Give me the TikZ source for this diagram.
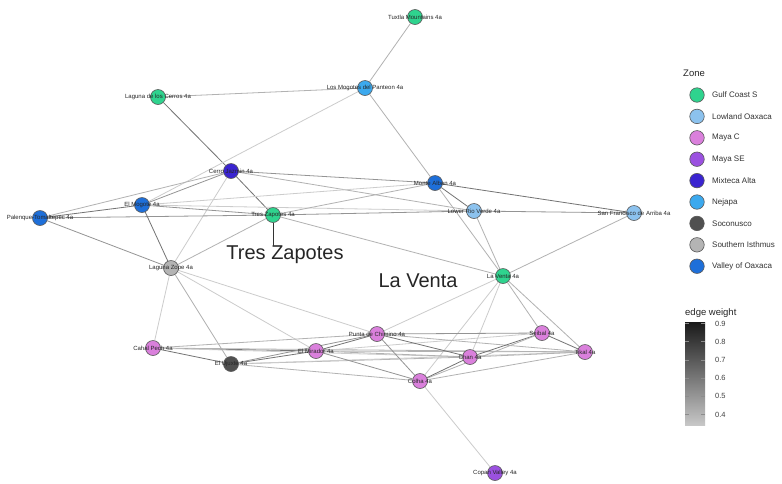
\documentclass[tikz,border=0pt]{standalone}
\usepackage{fontspec}
\setmainfont{Liberation Sans}
\usetikzlibrary{backgrounds}
\definecolor{cGulf}{HTML}{2FD38E}
\definecolor{cLowland}{HTML}{8CC2EE}
\definecolor{cMayaC}{HTML}{DA80DC}
\definecolor{cMayaSE}{HTML}{9B51E0}
\definecolor{cMixteca}{HTML}{3A24D0}
\definecolor{cNejapa}{HTML}{3CA9EE}
\definecolor{cSoconusco}{HTML}{505050}
\definecolor{cIsthmus}{HTML}{B4B4B4}
\definecolor{cValley}{HTML}{1E6FD9}
\begin{document}
\begin{tikzpicture}[x=1pt,y=-1pt,
  site/.style={circle, draw=black!65, line width=0.6pt, minimum size=15pt, inner sep=0pt, fill=#1},
  lbl/.style={font=\fontsize{6}{7}\selectfont, inner sep=0pt, text=black!85},
  wA/.style={draw=black!20, line width=0.8pt},
  wB/.style={draw=black!30, line width=0.8pt},
  wC/.style={draw=black!42, line width=0.8pt},
  wD/.style={draw=black!55, line width=0.8pt},
  key/.style={circle, draw=black!65, line width=0.6pt, minimum size=14.5pt, inner sep=0pt, fill=#1},
  keytext/.style={anchor=west, font=\fontsize{8}{9}\selectfont, text=black!80, inner sep=0pt},
  ttl/.style={anchor=west, font=\fontsize{9.5}{11}\selectfont, text=black!85, inner sep=0pt},
  big/.style={font=\fontsize{20}{22}\selectfont, inner sep=0pt, text=black!85},
  cbtext/.style={anchor=west, font=\fontsize{7.5}{9}\selectfont, text=black!75, inner sep=0pt}
]
\useasboundingbox (0,0) rectangle (782,483);

% nodes
\node[site=cGulf,    label={[lbl]center:Tuxtla Mountains 4a}] (tux) at (415,17) {};
\node[site=cNejapa,  label={[lbl]center:Los Mogotes del Panteon 4a}] (mog) at (365,88) {};
\node[site=cGulf,    label={[lbl]center:Laguna de los Cerros 4a}] (lcer) at (158,97) {};
\node[site=cMixteca, label={[lbl]center:Cerro Jazmin 4a}] (cja) at (231,171) {};
\node[site=cValley,  label={[lbl]center:Monte Alban 4a}] (mal) at (435,183) {};
\node[site=cValley,  label={[lbl]center:El Mogote 4a}] (emo) at (142,205) {};
\node[site=cValley,  label={[lbl]center:Palenque-Tomaltepec 4a}] (pal) at (40,218) {};
\node[site=cGulf,    label={[lbl]center:Tres Zapotes 4a}] (tzp) at (273,215) {};
\node[site=cLowland, label={[lbl]center:Lower Rio Verde 4a}] (lrv) at (474,211) {};
\node[site=cLowland, label={[lbl]center:San Francisco de Arriba 4a}] (sfa) at (634,213) {};
\node[site=cIsthmus, label={[lbl]center:Laguna Zope 4a}] (lzo) at (171,268) {};
\node[site=cGulf,    label={[lbl]center:La Venta 4a}] (lve) at (503,276) {};
\node[site=cMayaC,   label={[lbl]center:Cahal Pech 4a}] (cah) at (153,348) {};
\node[site=cSoconusco, label={[lbl]center:El Ujuxte 4a}] (uju) at (231,364) {};
\node[site=cMayaC,   label={[lbl]center:El Mirador 4a}] (mir) at (316,351) {};
\node[site=cMayaC,   label={[lbl]center:Punta de Chimino 4a}] (pch) at (377,334) {};
\node[site=cMayaC,   label={[lbl]center:Seibal 4a}] (sei) at (542,333) {};
\node[site=cMayaC,   label={[lbl]center:Tikal 4a}] (tik) at (585,352) {};
\node[site=cMayaC,   label={[lbl]center:Chan 4a}] (cha) at (470,357) {};
\node[site=cMayaC,   label={[lbl]center:Colha 4a}] (col) at (420,381) {};
\node[site=cMayaSE,  label={[lbl]center:Copan Valley 4a}] (cop) at (495,473) {};

% callouts
\node[big] (tzlab) at (285,255) {Tres Zapotes};
\node[big] (lvlab) at (418,281) {La Venta};
\draw[black!80, line width=0.8pt] (tzp.south) -- (tzlab.north -| tzp.south);

\begin{scope}[on background layer]
\fill[white] (0,0) rectangle (782,483);
% upper cluster
\draw[wB] (tux) -- (mog);
\draw[wB] (lcer) -- (mog);
\draw[wD] (lcer) -- (cja);
\draw[wD] (cja) -- (tzp);
\draw[wB] (mog) -- (mal);
\draw[wA] (mog) -- (emo);
\draw[wB] (mal) -- (lve);
\draw[wB] (cja) -- (pal);
\draw[wC] (cja) -- (emo);
\draw[wC] (cja) -- (mal);
\draw[wB] (cja) -- (lrv);
\draw[wA] (cja) -- (lzo);
\draw[wD] (pal) -- (emo);
\draw[wC] (pal) -- (tzp);
\draw[wC] (pal) -- (lzo);
\draw[wC] (emo) -- (tzp);
\draw[wA] (emo) -- (mal);
\draw[wA] (emo) -- (lrv);
\draw[wD] (emo) -- (lzo);
\draw[wB] (tzp) -- (mal);
\draw[wC] (tzp) -- (lrv);
\draw[wB] (tzp) -- (lve);
\draw[wB] (tzp) -- (lzo);
\draw[wC] (lrv) -- (sfa);
\draw[wD] (mal) -- (sfa);
\draw[wD] (mal) -- (lrv);
\draw[wB] (lrv) -- (lve);
\draw[wB] (sfa) -- (lve);
% links to the lower cluster
\draw[wA] (lzo) -- (cah);
\draw[wB] (lzo) -- (uju);
\draw[wA] (lzo) -- (mir);
\draw[wA] (lzo) -- (pch);
\draw[wA] (lve) -- (pch);
\draw[wA] (lve) -- (cha);
\draw[wA] (lve) -- (col);
\draw[wB] (lve) -- (sei);
\draw[wB] (lve) -- (tik);
% lower cluster
\draw[wD] (cah) -- (uju);
\draw[wD] (cah) -- (mir);
\draw[wB] (cah) -- (pch);
\draw[wB] (cah) -- (tik);
\draw[wA] (cah) -- (cha);
\draw[wD] (uju) -- (mir);
\draw[wC] (uju) -- (pch);
\draw[wB] (uju) -- (col);
\draw[wB] (uju) -- (cha);
\draw[wA] (uju) -- (tik);
\draw[wD] (mir) -- (pch);
\draw[wC] (mir) -- (col);
\draw[wB] (mir) -- (cha);
\draw[wB] (mir) -- (tik);
\draw[wA] (mir) -- (sei);
\draw[wC] (pch) -- (sei);
\draw[wB] (pch) -- (tik);
\draw[wD] (pch) -- (cha);
\draw[wC] (pch) -- (col);
\draw[wD] (sei) -- (cha);
\draw[wD] (sei) -- (tik);
\draw[wB] (sei) -- (col);
\draw[wB] (cha) -- (tik);
\draw[wD] (cha) -- (col);
\draw[wB] (col) -- (tik);
\draw[wA] (col) -- (cop);
\end{scope}

% legend panel
\fill[white] (673,0) rectangle (782,483);
\node[ttl] (zt) at (683,73) {Zone};
\node[key=cGulf]      (k1) at (697,95.0)  {}; \node[keytext] (t1) at (712,95.0)  {Gulf Coast S};
\node[key=cLowland]   (k2) at (697,116.4) {}; \node[keytext] (t2) at (712,116.4) {Lowland Oaxaca};
\node[key=cMayaC]     (k3) at (697,137.8) {}; \node[keytext] (t3) at (712,137.8) {Maya C};
\node[key=cMayaSE]    (k4) at (697,159.2) {}; \node[keytext] (t4) at (712,159.2) {Maya SE};
\node[key=cMixteca]   (k5) at (697,180.6) {}; \node[keytext] (t5) at (712,180.6) {Mixteca Alta};
\node[key=cNejapa]    (k6) at (697,202.0) {}; \node[keytext] (t6) at (712,202.0) {Nejapa};
\node[key=cSoconusco] (k7) at (697,223.4) {}; \node[keytext] (t7) at (712,223.4) {Soconusco};
\node[key=cIsthmus]   (k8) at (697,244.8) {}; \node[keytext] (t8) at (712,244.8) {Southern Isthmus};
\node[key=cValley]    (k9) at (697,266.2) {}; \node[keytext] (t9) at (712,266.2) {Valley of Oaxaca};

\node[ttl] (et) at (685,313) {edge weight};
\shade[top color=black!90, bottom color=black!22] (685,322) rectangle (705,425);
\foreach \v/\yy in {0.9/323.5,0.8/341.7,0.7/359.9,0.6/378.1,0.5/396.3,0.4/414.5}{
  \draw[black!45, line width=0.6pt] (685,\yy) -- (689,\yy);
  \draw[black!45, line width=0.6pt] (701,\yy) -- (705,\yy);
  \node[cbtext] (cb\v) at (715,\yy) {\v};
}
\end{tikzpicture}
\end{document}
